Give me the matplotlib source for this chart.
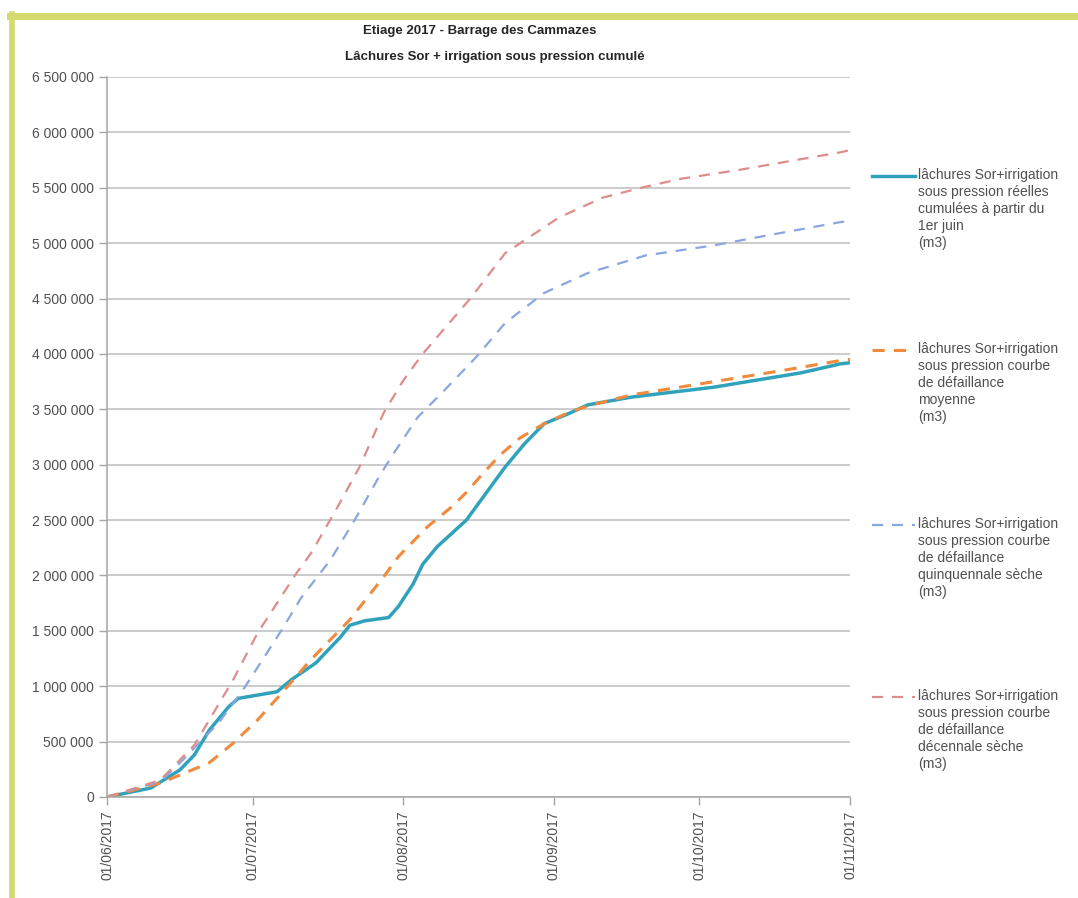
import matplotlib
matplotlib.use("Agg")
import matplotlib.pyplot as plt
import matplotlib.dates as mdates
from matplotlib.lines import Line2D
from matplotlib.ticker import FuncFormatter, MultipleLocator
import pandas as pd

plt.rcParams['font.family'] = ['Liberation Sans', 'DejaVu Sans']

# Données (m3 cumulés depuis le 1er juin)
reel_dates = ['2017-06-01', '2017-06-10', '2017-06-16', '2017-06-19', '2017-06-22',
              '2017-06-26', '2017-06-28', '2017-07-02', '2017-07-06', '2017-07-09',
              '2017-07-14', '2017-07-19', '2017-07-21', '2017-07-24', '2017-07-29',
              '2017-07-31', '2017-08-03', '2017-08-05', '2017-08-08', '2017-08-11',
              '2017-08-14', '2017-08-18', '2017-08-22', '2017-08-26', '2017-08-30',
              '2017-09-04', '2017-09-08', '2017-09-17', '2017-10-04', '2017-10-22',
              '2017-10-30', '2017-11-01']
reel_vals = [0, 81000, 244000, 380000, 600000,
             812000, 890000, 920000, 950000, 1060000,
             1210000, 1440000, 1550000, 1590000, 1620000,
             1720000, 1920000, 2100000, 2260000, 2380000,
             2500000, 2740000, 2980000, 3190000, 3370000,
             3460000, 3540000, 3610000, 3700000, 3830000,
             3910000, 3920000]

moy_dates = ['2017-06-01', '2017-06-12', '2017-06-22', '2017-06-27', '2017-07-02',
             '2017-07-07', '2017-07-13', '2017-07-21', '2017-07-28', '2017-07-31',
             '2017-08-06', '2017-08-11', '2017-08-14', '2017-08-17', '2017-08-21',
             '2017-08-25', '2017-08-30', '2017-09-04', '2017-09-08', '2017-09-17',
             '2017-10-04', '2017-10-18', '2017-10-30', '2017-11-01']
moy_vals = [0, 126000, 307000, 487000, 695000,
            939000, 1240000, 1600000, 1990000, 2170000,
            2440000, 2620000, 2750000, 2900000, 3090000,
            3240000, 3370000, 3470000, 3530000, 3630000,
            3750000, 3850000, 3940000, 3950000]

quinq_dates = ['2017-06-01', '2017-06-12', '2017-06-16', '2017-06-24', '2017-06-29',
               '2017-07-07', '2017-07-11', '2017-07-17', '2017-07-22', '2017-07-27',
               '2017-07-30', '2017-08-04', '2017-08-09', '2017-08-16', '2017-08-22',
               '2017-08-30', '2017-09-08', '2017-09-20', '2017-10-04', '2017-10-15',
               '2017-10-30', '2017-11-01']
quinq_vals = [0, 140000, 307000, 670000, 966000,
              1510000, 1800000, 2140000, 2500000, 2890000,
              3100000, 3430000, 3650000, 3970000, 4280000,
              4550000, 4730000, 4890000, 4980000, 5070000,
              5190000, 5200000]

dec_dates = ['2017-06-01', '2017-06-12', '2017-06-19', '2017-06-27', '2017-07-02',
             '2017-07-10', '2017-07-13', '2017-07-18', '2017-07-23', '2017-07-28',
             '2017-08-01', '2017-08-05', '2017-08-15', '2017-08-22', '2017-09-02',
             '2017-09-11', '2017-09-19', '2017-09-27', '2017-10-09', '2017-10-30',
             '2017-11-01']
dec_vals = [0, 153000, 470000, 1060000, 1480000,
            2020000, 2200000, 2580000, 2980000, 3470000,
            3760000, 4000000, 4510000, 4910000, 5230000,
            5410000, 5500000, 5580000, 5660000, 5820000,
            5840000]

labels = [
    'lâchures Sor+irrigation\nsous pression réelles\ncumulées à partir du\n1er juin\n(m3)',
    'lâchures Sor+irrigation\nsous pression courbe\nde défaillance\nmoyenne\n(m3)',
    'lâchures Sor+irrigation\nsous pression courbe\nde défaillance\nquinquennale sèche\n(m3)',
    'lâchures Sor+irrigation\nsous pression courbe\nde défaillance\ndécennale sèche\n(m3)',
]

W, H = 1078, 898
fig = plt.figure(figsize=(W / 100, H / 100), dpi=100)
ax = fig.add_axes([107 / W, 1 - 797 / H, (850 - 107) / W, (797 - 77) / H])

# Courbes
series = [
    (reel_dates, reel_vals, dict(color='#31A2BC', lw=2.5, ls='-')),
    (moy_dates, moy_vals, dict(color='#F08A3C', lw=2.2, ls=(0, (4, 3)))),
    (quinq_dates, quinq_vals, dict(color='#8AA6E0', lw=1.6, ls=(0, (5, 4)))),
    (dec_dates, dec_vals, dict(color='#DE8C8C', lw=1.6, ls=(0, (5, 4)))),
]
for d, v, st in series:
    ax.plot(pd.to_datetime(d), v, solid_capstyle='round', solid_joinstyle='round', **st)

ax.set_xlim(pd.Timestamp('2017-06-01'), pd.Timestamp('2017-11-01'))
ax.set_ylim(0, 6500000)
ax.yaxis.set_major_locator(MultipleLocator(500000))
ax.yaxis.set_major_formatter(FuncFormatter(lambda v, p: f"{v:,.0f}".replace(",", " ")))
ax.xaxis.set_major_locator(mdates.MonthLocator())
ax.xaxis.set_major_formatter(mdates.DateFormatter('%d/%m/%Y'))
plt.setp(ax.get_xticklabels(), rotation=90)

ax.grid(axis='y', color='#BDBDBD', lw=1.1)
ax.set_axisbelow(True)
for s in ['top', 'right']:
    ax.spines[s].set_visible(False)
for s in ['left', 'bottom']:
    ax.spines[s].set_color('#A6A6A6')
    ax.spines[s].set_linewidth(1.1)
ax.tick_params(axis='both', colors='#A6A6A6', labelcolor='#505050', labelsize=10,
               length=6, width=1.0)

# Titre
fig.text(480 / W, 1 - 31 / H, 'Etiage 2017 - Barrage des Cammazes', ha='center', va='center',
         fontsize=9.5, fontweight='bold', color='#262626')
fig.text(495 / W, 1 - 57 / H, 'Lâchures Sor + irrigation sous pression cumulé', ha='center',
         va='center', fontsize=9.5, fontweight='bold', color='#262626')

# Légende à droite
leg_y = [176, 350, 525, 697]
for (d, v, st), lab, y in zip(series, labels, leg_y):
    fig.add_artist(Line2D([872 / W, 915 / W], [1 - y / H] * 2, transform=fig.transFigure, **st))
    fig.text(918 / W, 1 - (y - 8) / H, lab, ha='left', va='top', fontsize=10,
             color='#505050', linespacing=1.28)

# Cadre vert
green = '#D3DB6B'
fig.add_artist(Line2D([10 / W, 1], [1 - 16 / H] * 2, transform=fig.transFigure, color=green, lw=5))
fig.add_artist(Line2D([12 / W, 12 / W], [0, 1 - 14 / H], transform=fig.transFigure, color=green, lw=4))

fig.savefig('out.png', dpi=100)
